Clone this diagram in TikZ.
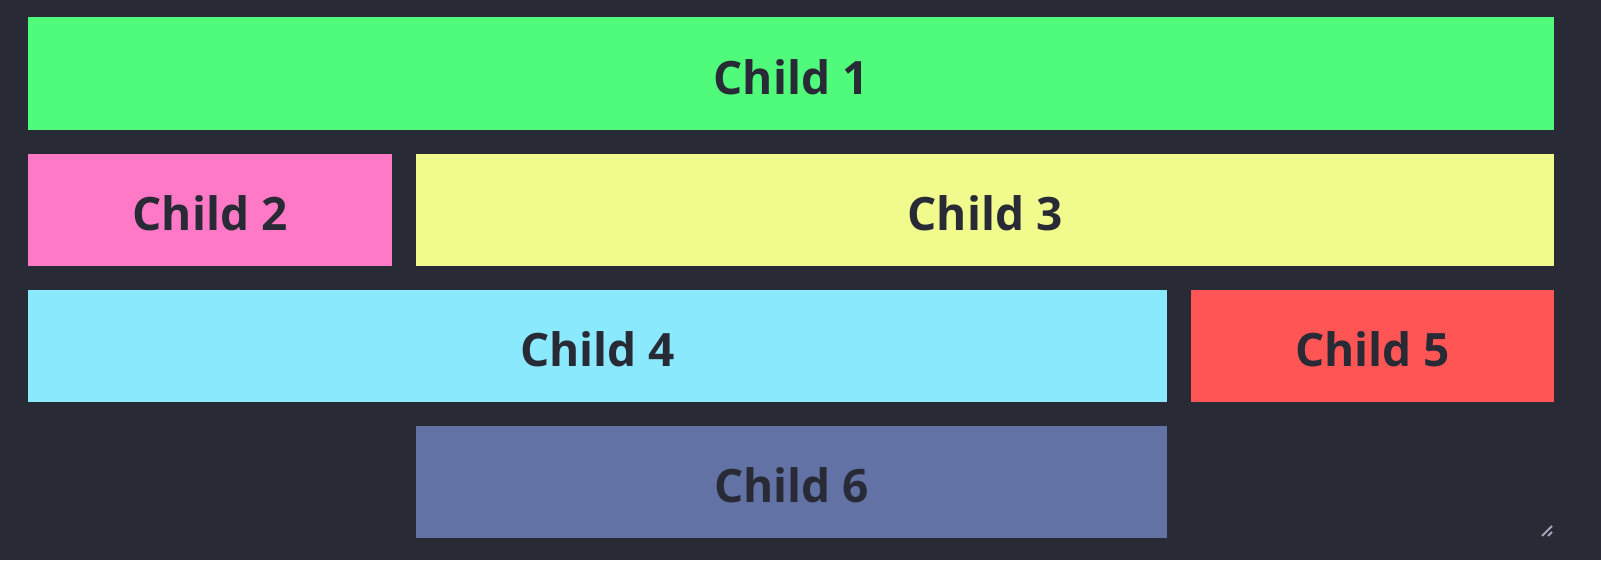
\documentclass[tikz,border=0pt]{standalone}
\usepackage{fontspec}
\setmainfont{Open Sans}[BoldFont={Open Sans Bold}]
\usetikzlibrary{positioning}
\definecolor{themebg}{HTML}{282A36}
\definecolor{themegreen}{HTML}{50FA7B}
\definecolor{themepink}{HTML}{FF79C6}
\definecolor{themeyellow}{HTML}{F1FA8C}
\definecolor{themecyan}{HTML}{8BE9FD}
\definecolor{themered}{HTML}{FF5555}
\definecolor{themecomment}{HTML}{6272A4}
\definecolor{themehandle}{HTML}{A4A6B8}
\tikzset{
  cell/.style = {
    rectangle, inner sep=0pt, outer sep=0pt,
    text height=41pt, text depth=0pt,
    text=themebg, font=\bfseries\fontsize{46}{50}\selectfont
  }
}

\begin{document}
\begin{tikzpicture}[x=1pt, y=-1pt]
      % page background
      \fill[themebg] (0,0) rectangle (1601,560);
      \useasboundingbox (0,0) rectangle (1601,560);

      % first row spans all four columns
      \node[cell, fill=themegreen, minimum width=1526pt, minimum height=113pt] (c1) at (791,73.5) {Child 1};
      % second row
      \node[cell, fill=themepink, minimum width=364pt, minimum height=112pt] (c2) at (210,210) {Child 2};
      \node[cell, fill=themeyellow, minimum width=1138pt, minimum height=112pt] (c3) at (985,210) {Child 3};
      % third row
      \node[cell, fill=themecyan, minimum width=1139pt, minimum height=112pt] (c4) at (597.5,346) {Child 4};
      \node[cell, fill=themered, minimum width=363pt, minimum height=112pt] (c5) at (1372.5,346) {Child 5};
      % fourth row, columns two and three only
      \node[cell, fill=themecomment, minimum width=751pt, minimum height=112pt] (c6) at (791.5,482) {Child 6};

      % resize handle in the corner
      \draw[themehandle, line width=2pt] (1542,536) -- (1552,526);
      \draw[themehandle, line width=2pt] (1548,536) -- (1552,532);
   \end{tikzpicture}
\end{document}
